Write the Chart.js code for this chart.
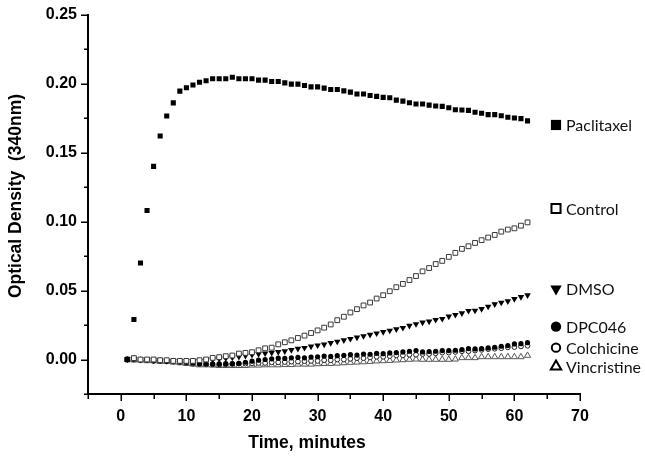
<!DOCTYPE html>
<html>
<head>
<meta charset="utf-8">
<script src="https://cdn.jsdelivr.net/npm/chart.js@4.4.1/dist/chart.umd.min.js"></script>
<style>
  html, body { margin: 0; padding: 0; background: #fff; }
</style>
</head>
<body>
<canvas id="turbidity" width="645" height="458"></canvas>
<script>
// time points (minutes)
const minutes = [1, 2, 3, 4, 5, 6, 7, 8, 9, 10, 11, 12, 13, 14, 15, 16, 17, 18, 19, 20,
    21, 22, 23, 24, 25, 26, 27, 28, 29, 30, 31, 32, 33, 34, 35, 36, 37, 38, 39, 40,
    41, 42, 43, 44, 45, 46, 47, 48, 49, 50, 51, 52, 53, 54, 55, 56, 57, 58, 59, 60, 61, 62];

// optical density readings
const paclitaxel = [0.000, 0.029, 0.070, 0.108, 0.140, 0.162, 0.1765, 0.186, 0.1945, 0.197,
    0.199, 0.201, 0.202, 0.2035, 0.2035, 0.2035, 0.2046, 0.2035, 0.2035, 0.2035,
    0.2025, 0.2025, 0.2015, 0.2015, 0.2005, 0.1996, 0.1996, 0.1986, 0.1976, 0.1976,
    0.1967, 0.1957, 0.1957, 0.1947, 0.1938, 0.1924, 0.1924, 0.1914, 0.1907, 0.190,
    0.1897, 0.188, 0.1873, 0.1861, 0.1852, 0.1852, 0.1844, 0.1837, 0.1835, 0.1825,
    0.181, 0.1808, 0.1806, 0.1792, 0.1785, 0.1775, 0.1775, 0.1767, 0.1756, 0.175, 0.1746, 0.173];
const control = [0.000, 0.001, 0.000, 0.000, 0.000, -0.0005, -0.0005, -0.001, -0.001, -0.001,
    -0.001, -0.0005, 0.000, 0.0012, 0.0017, 0.0024, 0.0029, 0.0043, 0.0048, 0.0053,
    0.0067, 0.0081, 0.0086, 0.011, 0.0125, 0.0139, 0.0156, 0.0173, 0.0192, 0.0211,
    0.0231, 0.0254, 0.0285, 0.031, 0.0341, 0.0365, 0.0392, 0.0413, 0.0442, 0.0466,
    0.0495, 0.0524, 0.0548, 0.0576, 0.0605, 0.0639, 0.0663, 0.0692, 0.0715, 0.0744,
    0.0773, 0.0802, 0.0821, 0.0845, 0.0865, 0.0884, 0.0903, 0.0927, 0.0942, 0.0951, 0.097, 0.0994];
const dmso = [0.000, 0.0005, 0.000, 0.000, -0.0005, -0.0005, -0.001, -0.001, -0.001, -0.0012,
    -0.0012, -0.001, -0.0005, 0.000, 0.0005, 0.001, 0.0015, 0.002, 0.0028, 0.0035,
    0.004, 0.0045, 0.005, 0.0055, 0.006, 0.007, 0.0078, 0.0085, 0.0095, 0.0103,
    0.011, 0.012, 0.013, 0.014, 0.015, 0.016, 0.017, 0.018, 0.019, 0.020,
    0.021, 0.022, 0.023, 0.0245, 0.0257, 0.0269, 0.0276, 0.0288, 0.0295, 0.0312,
    0.0324, 0.0336, 0.0353, 0.0355, 0.0367, 0.0384, 0.0401, 0.0413, 0.0423, 0.0439, 0.0454, 0.0466];
const dpc046 = [0.000, 0.001, 0.000, 0.000, -0.0005, -0.0005, -0.001, -0.001, -0.0015, -0.002,
    -0.0025, -0.003, -0.003, -0.0032, -0.0032, -0.003, -0.003, -0.0028, -0.002, -0.0012,
    -0.0005, 0.000, 0.0005, 0.001, 0.0008, 0.0012, 0.0015, 0.0012, 0.0018, 0.002,
    0.0025, 0.0022, 0.0028, 0.003, 0.0035, 0.0032, 0.004, 0.0038, 0.0045, 0.0042,
    0.0048, 0.005, 0.0055, 0.006, 0.0065, 0.0055, 0.0058, 0.006, 0.0065, 0.0065,
    0.0067, 0.0072, 0.0079, 0.0077, 0.0079, 0.0084, 0.0089, 0.0096, 0.0101, 0.0113, 0.0115, 0.0122];
const colchicine = [0.000, 0.000, -0.0005, -0.0005, -0.001, -0.001, -0.0012, -0.0015, -0.002, -0.0025,
    -0.003, -0.0032, -0.0035, -0.0035, -0.0035, -0.0035, -0.0032, -0.003, -0.003, -0.0028,
    -0.0025, -0.0025, -0.002, -0.002, -0.0018, -0.0015, -0.0015, -0.0012, -0.001, -0.001,
    -0.0005, -0.0005, 0.000, 0.000, 0.0005, 0.001, 0.001, 0.0015, 0.002, 0.002,
    0.0025, 0.003, 0.003, 0.0035, 0.0035, 0.004, 0.004, 0.0045, 0.005, 0.005,
    0.0055, 0.006, 0.006, 0.0065, 0.007, 0.0075, 0.0078, 0.0082, 0.0088, 0.009, 0.0095, 0.010];
const vincristine = [0.000, -0.0005, -0.0005, -0.001, -0.001, -0.0015, -0.0015, -0.002, -0.0025, -0.003,
    -0.0035, -0.004, -0.004, -0.0042, -0.0045, -0.0045, -0.0045, -0.0045, -0.0045, -0.0042,
    -0.0042, -0.004, -0.004, -0.004, -0.0038, -0.0038, -0.0035, -0.0035, -0.0035, -0.0032,
    -0.003, -0.003, -0.0028, -0.0025, -0.0022, -0.002, -0.0018, -0.0015, -0.0012, -0.001,
    -0.0008, -0.0005, -0.0003, 0.000, 0.0002, 0.000, 0.000, 0.000, 0.000, 0.000,
    0.0002, 0.0012, 0.0012, 0.0012, 0.0019, 0.0019, 0.0019, 0.0019, 0.0019, 0.0019, 0.0019, 0.0029];

const seriesNames = ['Paclitaxel', 'Control', 'DMSO', 'DPC046', 'Colchicine', 'Vincristine'];
const seriesValues = [paclitaxel, control, dmso, dpc046, colchicine, vincristine];
// where each series label sits on the OD axis
const labelLevels = [0.170, 0.1095, 0.0512, 0.0238, 0.0086, -0.005];

const xMajorTicks = [0, 10, 20, 30, 40, 50, 60, 70];
const yMajorTicks = [0.00, 0.05, 0.10, 0.15, 0.20, 0.25];

// marker look per series: [pointStyle, rotation, fill, stroke, borderWidth, radius, legendRadius, legendBorder]
const markers = [
    ['rect', 0, '#000', '#000', 0, 3.6, 7.2, 0],
    ['rect', 0, '#fff', '#3a3a3a', 1, 3.4, 6.4, 2],
    ['triangle', 180, '#000', '#000', 0, 3.8, 6.6, 0],
    ['circle', 0, '#000', '#000', 0, 2.6, 5.2, 0],
    ['circle', 0, '#fff', '#222', 1, 2.4, 4.2, 2],
    ['triangle', 0, '#fff', '#555', 1, 3.6, 6.0, 2],
];

const tickFont = { family: "'Liberation Sans', Arial, sans-serif", size: 16, weight: 'bold' };
const titleFont = "bold 17.5px 'Liberation Sans', Arial, sans-serif";

const datasets = seriesNames.map((name, i) => ({
    label: name,
    data: minutes.map((m, j) => ({ x: m, y: seriesValues[i][j] })),
    showLine: false,
    pointStyle: markers[i][0],
    rotation: markers[i][1],
    pointBackgroundColor: markers[i][2],
    pointBorderColor: markers[i][3],
    pointBorderWidth: markers[i][4],
    pointRadius: markers[i][5],
}));

// draw the tick marks ourselves so minor ticks can be shorter
const tickMarks = {
    id: 'tickMarks',
    afterDraw(chart) {
        const { ctx, scales: { x, y } } = chart;
        ctx.save();
        ctx.strokeStyle = '#000';
        ctx.lineWidth = 1.5;
        ctx.beginPath();
        x.ticks.forEach(t => {
            const px = Math.round(x.getPixelForValue(t.value)) + 0.25;
            const len = t.label !== '' ? 7 : 5;
            ctx.moveTo(px, x.top);
            ctx.lineTo(px, x.top + len);
        });
        y.ticks.forEach(t => {
            const py = Math.round(y.getPixelForValue(t.value)) + 0.25;
            const len = t.label !== '' ? 7 : 4;
            ctx.moveTo(y.right, py);
            ctx.lineTo(y.right - len, py);
        });
        ctx.stroke();
        ctx.restore();
    }
};

// series labels on the right and the two axis titles
const sideLabels = {
    id: 'sideLabels',
    afterDraw(chart) {
        const { ctx, scales: { y }, chartArea } = chart;
        ctx.save();
        const mx = chartArea.right - 24;
        seriesNames.forEach((name, i) => {
            const py = y.getPixelForValue(labelLevels[i]);
            const m = markers[i];
            ctx.fillStyle = m[2];
            ctx.strokeStyle = '#000';
            ctx.lineWidth = m[7];
            Chart.helpers.drawPoint(ctx, { pointStyle: m[0], rotation: m[1], radius: m[6], borderWidth: m[7] }, mx, py);
            ctx.fillStyle = '#111';
            ctx.font = "16px Lato, 'Open Sans', sans-serif";
            ctx.textBaseline = 'middle';
            ctx.textAlign = 'left';
            ctx.fillText(name, mx + 10, py + 1);
        });

        ctx.fillStyle = '#000';
        ctx.font = titleFont;
        ctx.textAlign = 'center';
        ctx.textBaseline = 'middle';
        ctx.fillText('Time, minutes', 307, 443);
        ctx.translate(16, 196);
        ctx.rotate(-Math.PI / 2);
        ctx.fillText('Optical Density  (340nm)', 0, 0);
        ctx.restore();
    }
};

new Chart(document.getElementById('turbidity'), {
    type: 'scatter',
    data: { datasets: datasets },
    options: {
        responsive: false,
        animation: false,
        devicePixelRatio: 1,
        layout: { padding: { top: 13, right: 65, left: 0, bottom: 0 } },
        plugins: {
            legend: { display: false },
            tooltip: { enabled: false }
        },
        scales: {
            x: {
                type: 'linear',
                min: -5,
                max: 70,
                grid: { drawOnChartArea: false, drawTicks: true, tickLength: 6, tickColor: 'rgba(0,0,0,0)' },
                border: { display: true, color: '#000', width: 2 },
                ticks: {
                    stepSize: 5,
                    autoSkip: false,
                    maxRotation: 0,
                    padding: 7,
                    color: '#000',
                    font: tickFont,
                    callback: v => xMajorTicks.includes(v) ? String(v) : ''
                },
                afterFit: s => { s.height = 64; }
            },
            y: {
                type: 'linear',
                min: -0.025,
                max: 0.25,
                grid: { drawOnChartArea: false, drawTicks: true, tickLength: 6, tickColor: 'rgba(0,0,0,0)' },
                border: { display: true, color: '#000', width: 2 },
                ticks: {
                    stepSize: 0.025,
                    autoSkip: false,
                    padding: 5,
                    color: '#000',
                    font: tickFont,
                    callback: v => {
                        const m = yMajorTicks.find(t => Math.abs(t - v) < 1e-9);
                        return m === undefined ? '' : m.toFixed(2);
                    }
                },
                afterFit: s => { s.width = 88; }
            }
        }
    },
    plugins: [tickMarks, sideLabels]
});
</script>
</body>
</html>
